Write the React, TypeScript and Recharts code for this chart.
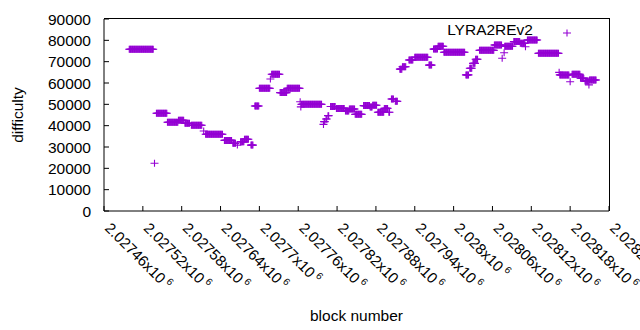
import { ScatterChart, Scatter, XAxis, YAxis, Legend } from 'recharts';

// difficulty runs: consecutive blocks sharing one value
const blockFrom = [
    2027499, 2027538, 2027541, 2027558, 2027575, 2027585, 2027595, 2027614, 2027617, 2027646,
    2027659, 2027666, 2027671, 2027677, 2027687, 2027693, 2027700, 2027717, 2027719, 2027732,
    2027743, 2027763, 2027764, 2027765, 2027799, 2027800, 2027803, 2027806, 2027810, 2027819,
    2027833, 2027839, 2027848, 2027861, 2027871, 2027875, 2027883, 2027893, 2027900, 2027904,
    2027910, 2027917, 2027921, 2027931, 2027940, 2027962, 2027969, 2027976, 2027985, 2028019,
    2028025, 2028030, 2028034, 2028040, 2028063, 2028075, 2028078, 2028079, 2028093, 2028103,
    2028111, 2028114, 2028131, 2028163, 2028164, 2028180, 2028183, 2028196, 2028203, 2028209,
    2028210,
];
const blockTo = [
    2027536, 2027538, 2027557, 2027574, 2027583, 2027592, 2027611, 2027614, 2027643, 2027657,
    2027663, 2027666, 2027676, 2027683, 2027690, 2027699, 2027716, 2027717, 2027731, 2027742,
    2027762, 2027763, 2027764, 2027796, 2027799, 2027801, 2027804, 2027807, 2027817, 2027831,
    2027838, 2027847, 2027858, 2027870, 2027874, 2027881, 2027892, 2027898, 2027901, 2027907,
    2027913, 2027920, 2027926, 2027937, 2027960, 2027966, 2027975, 2027984, 2028017, 2028023,
    2028028, 2028033, 2028037, 2028062, 2028074, 2028075, 2028078, 2028091, 2028102, 2028110,
    2028111, 2028129, 2028162, 2028163, 2028178, 2028180, 2028195, 2028201, 2028208, 2028209,
    2028220,
];
const difficulty = [
    75800, 22400, 45800, 41600, 42500, 41100, 40200, 37500, 35950, 33100,
    31700, 30900, 32500, 33600, 30900, 49200, 57500, 61900, 64100, 55500,
    57500, 51200, 48800, 50000, 40600, 41900, 43100, 44700, 49000, 48100,
    46900, 47800, 45300, 49400, 48700, 49600, 46300, 48100, 46300, 52500,
    51400, 66500, 67600, 70800, 72100, 68400, 75900, 77200, 74400, 63800,
    66900, 69200, 71100, 75300, 77800, 71600, 74200, 77200, 79400, 78600,
    77000, 80150, 73900, 65000, 63800, 60600, 64100, 62200, 60900, 59100,
    61400,
];

const xTicks = [
    2027460, 2027520, 2027580, 2027640, 2027700, 2027760, 2027820,
    2027880, 2027940, 2028000, 2028060, 2028120, 2028180, 2028240,
];
const xTickLabels = [
    '2.02746', '2.02752', '2.02758', '2.02764', '2.0277', '2.02776', '2.02782',
    '2.02788', '2.02794', '2.028', '2.02806', '2.02812', '2.02818', '2.02824',
];
const yTicks = [0, 10000, 20000, 30000, 40000, 50000, 60000, 70000, 80000, 90000];

const seriesName = 'LYRA2REv2';

const xDomain = [xTicks[0], xTicks[xTicks.length - 1]];
const yDomain = [yTicks[0], yTicks[yTicks.length - 1]];

const points: { block: number; difficulty: number }[] = [];
blockFrom.forEach((from, i) => {
    for (let b = from; b <= blockTo[i]; b++) {
        points.push({ block: b, difficulty: difficulty[i] });
    }
});

const COLOR = '#9400d3';
const FONT = '"Liberation Sans", Arial, sans-serif';
const W = 640;
const H = 330;
const MARGIN = { top: 19, right: 31, left: 0, bottom: 0 };
const Y_AXIS_W = 104;
const X_AXIS_H = 119;
const LEGEND_TOP = 22;

const Plus = (props: any) => {
    const { cx, cy } = props;
    if (cx == null || cy == null) return null;
    return <path d={`M${cx - 4},${cy}h8M${cx},${cy - 3.5}v7`} stroke={COLOR} strokeWidth={1.1} fill="none" />;
};

const XTick = (props: any) => {
    const { x, y, index } = props;
    const label = xTickLabels[index] ?? '';
    return (
        <text x={x} y={y} transform={`rotate(45 ${x} ${y})`} textAnchor="start" fontSize={15} fill="#000" fontFamily={FONT}>
            {label}x10
            <tspan fontSize={10} dx={3} dy={-6}>6</tspan>
        </text>
    );
};

// legend (key text + sample marker) and the top/right side of the plot frame
const LegendBox = () => (
    <div style={{ position: 'relative', fontFamily: FONT, fontSize: 15.5 }}>
        <div
            style={{
                position: 'absolute',
                left: MARGIN.left + Y_AXIS_W,
                top: MARGIN.top - LEGEND_TOP - 1,
                width: W - MARGIN.left - MARGIN.right - Y_AXIS_W + 1,
                height: H - MARGIN.top - MARGIN.bottom - X_AXIS_H + 1,
                borderTop: '1px solid #000',
                borderRight: '1px solid #000',
                boxSizing: 'border-box',
                pointerEvents: 'none',
            }}
        />
        <span style={{ position: 'absolute', right: W - 533, top: -1, whiteSpace: 'nowrap' }}>{seriesName}</span>
        <svg style={{ position: 'absolute', left: 560, top: 4 }} width={14} height={14}>
            <Plus cx={7} cy={7} />
        </svg>
    </div>
);

export default function App() {
    return (
        <div style={{ position: 'absolute', left: 0, top: 0, width: W, height: H, background: '#fff' }}>
            <ScatterChart width={W} height={H} margin={MARGIN}>
                <XAxis
                    dataKey="block"
                    type="number"
                    domain={xDomain}
                    ticks={xTicks}
                    interval={0}
                    height={X_AXIS_H}
                    stroke="#000"
                    tickSize={-5}
                    tickMargin={23}
                    tick={<XTick />}
                    label={{ value: 'block number', position: 'insideBottom', offset: 9, fill: '#000', fontSize: 15.5, fontFamily: FONT }}
                />
                <YAxis
                    dataKey="difficulty"
                    type="number"
                    domain={yDomain}
                    ticks={yTicks}
                    interval={0}
                    width={Y_AXIS_W}
                    stroke="#000"
                    tickSize={-5}
                    tickMargin={18}
                    tick={{ fill: '#000', fontSize: 15.5, fontFamily: FONT }}
                    label={{ value: 'difficulty', angle: -90, position: 'insideLeft', offset: 17, fill: '#000', fontSize: 15.5, fontFamily: FONT, style: { textAnchor: 'middle' } }}
                />
                <Legend layout="horizontal" verticalAlign="middle" align="center" wrapperStyle={{ left: 0, top: LEGEND_TOP, width: W, height: 0 }} content={<LegendBox />} />
                <Scatter name={seriesName} data={points} fill={COLOR} shape={<Plus />} isAnimationActive={false} />
            </ScatterChart>
        </div>
    );
}
